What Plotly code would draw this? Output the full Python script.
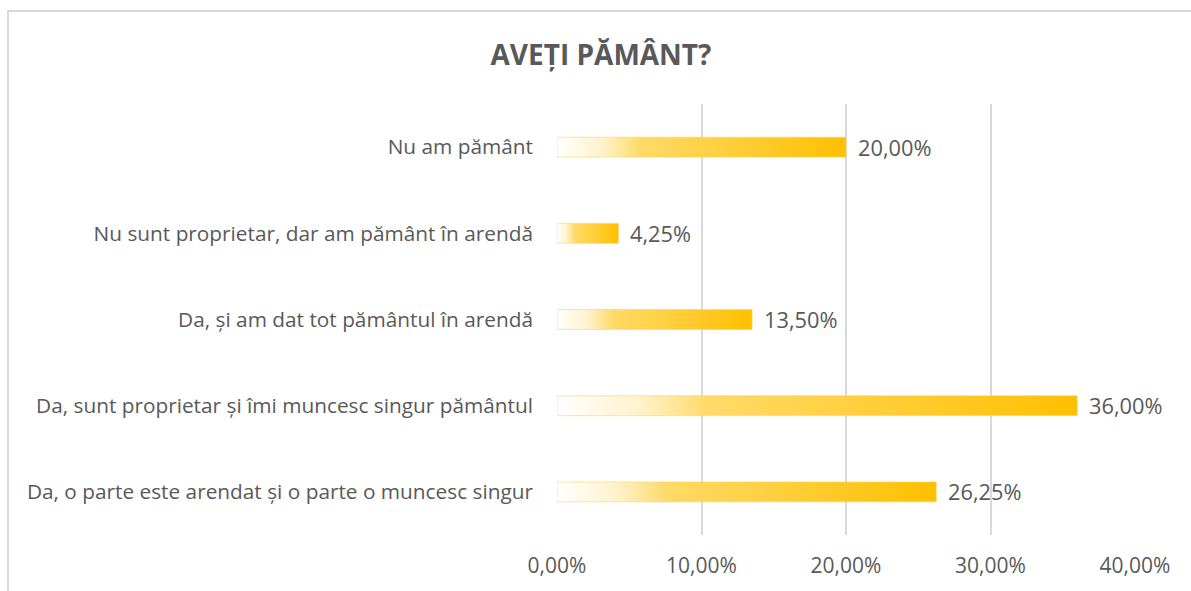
import plotly.graph_objects as go

# ---- data (bottom to top) ----
categories = [
    "Da, o parte este arendat și o parte o muncesc singur",
    "Da, sunt proprietar și îmi muncesc singur pământul",
    "Da, și am dat tot pământul în arendă",
    "Nu sunt proprietar, dar am pământ în arendă",
    "Nu am pământ",
]
values = [26.25, 36.00, 13.50, 4.25, 20.00]
x_ticks = [0, 10, 20, 30, 40]
x_tick_labels = ["0,00%", "10,00%", "20,00%", "30,00%", "40,00%"]
title_text = "AVEȚI PĂMÂNT?"

FONT = "Open Sans"
TXT = "#595959"
GRID = "#D9D9D9"
half = 0.115  # half bar thickness in category units

gradient = dict(
    type="horizontal",
    colorscale=[[0.0, "#FFFFFF"], [0.16, "#FFF2CC"], [0.29, "#FFDA68"], [1.0, "#FFC000"]],
)

fig = go.Figure()
for i, (cat, v) in enumerate(zip(categories, values)):
    fig.add_trace(go.Scatter(
        x=[0, v, v, 0, 0],
        y=[i - half, i - half, i + half, i + half, i - half],
        mode="lines",
        fill="toself",
        fillgradient=gradient,
        line=dict(width=1, color="rgba(255,210,90,0.6)"),
        hoverinfo="text",
        text=f"{cat}: {v:.2f}%".replace(".", ","),
        showlegend=False,
    ))

for i, v in enumerate(values):
    fig.add_annotation(
        x=v, y=i, xref="x", yref="y",
        text=f"{v:.2f}".replace(".", ",") + "%",
        showarrow=False, xanchor="left", yanchor="middle", xshift=10,
        font=dict(family=FONT, size=21.8, color=TXT),
    )

fig.add_shape(
    type="rect", xref="paper", yref="paper",
    x0=-0.9498, x1=1.11, y0=-0.15, y1=1.2158,
    line=dict(color=GRID, width=2), fillcolor="rgba(0,0,0,0)", layer="below",
)

fig.update_layout(
    width=1191, height=591,
    margin=dict(l=557, r=56, t=104, b=56),
    paper_bgcolor="white", plot_bgcolor="white",
    title=dict(
        text=f"<b>{title_text}</b>", x=601 / 1191, xanchor="center", xref="container",
        y=1 - 55 / 591, yref="container", yanchor="middle",
        font=dict(family=FONT, size=28, color=TXT),
    ),
    font=dict(family=FONT, color=TXT),
    showlegend=False,
)

fig.update_xaxes(
    range=[0, 40], tickvals=x_ticks, ticktext=x_tick_labels,
    showgrid=True, gridcolor=GRID, gridwidth=2,
    zeroline=False, showline=False, ticks="",
    tickfont=dict(family=FONT, size=21, color=TXT),
    ticklabelstandoff=16, fixedrange=True,
)
fig.update_yaxes(
    range=[-0.5, 4.5], tickvals=list(range(len(categories))), ticktext=categories,
    showgrid=False, zeroline=False, showline=False, ticks="",
    tickfont=dict(family=FONT, size=20.8, color=TXT),
    ticklabelstandoff=23, fixedrange=True,
)

fig.write_html(
    "out.html",
    config={"displayModeBar": False},
    post_script="document.body.style.margin='0';",
)
